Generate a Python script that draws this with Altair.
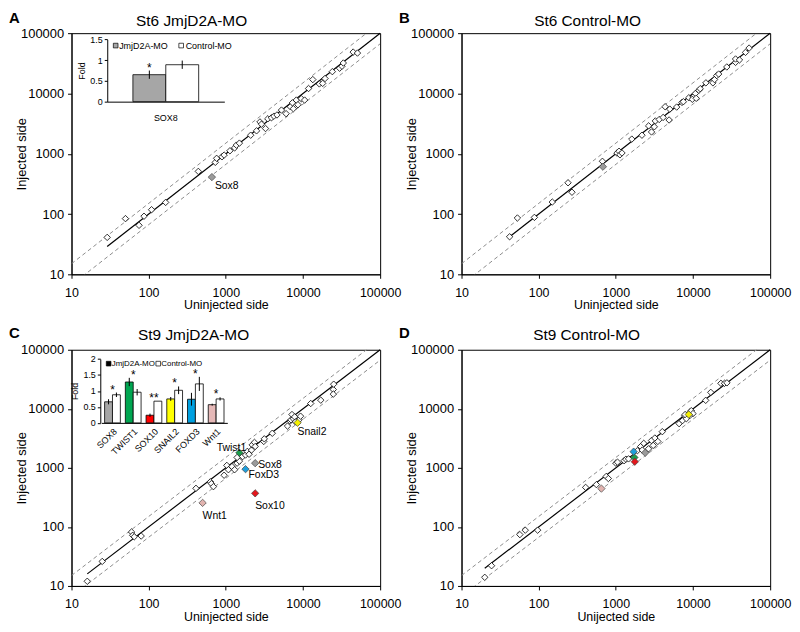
import altair as alt
import pandas as pd

FONT = "Liberation Sans"
TICKS = [10, 100, 1000, 10000, 100000]

# ---------------- Panel A: St6 JmjD2A-MO ----------------
A_uninj = [29, 50, 75, 87, 109, 166, 440, 730, 760, 890, 950, 1130, 1300, 1370, 1500, 2100,
           2500, 2770, 2900, 3270, 3500, 3900, 4200, 4600, 5260, 6040, 6860, 7300, 7500, 8190,
           8600, 9500, 10500, 11800, 13400, 16300, 18000, 19300, 24000, 29800, 32000, 33300,
           44700, 50800]
A_inj = [41, 84, 65, 92, 118, 156, 510, 720, 840, 890, 950, 1120, 1250, 1390, 1500, 2030,
         2400, 3370, 3100, 2620, 3800, 3950, 4200, 4400, 5300, 4620, 6020, 7000, 5590, 7770,
         6500, 8200, 7770, 12080, 17000, 14400, 14700, 17700, 23000, 26200, 28300, 32000,
         48600, 46800]
A_hl_gene = ["Sox8"]
A_hl_uninj = [660]
A_hl_inj = [410]

# ---------------- Panel B: St6 Control-MO ----------------
B_uninj = [42, 53, 88, 150, 240, 270, 670, 1035, 1100, 1130, 1200, 1610, 2180, 2660, 2900,
           3150, 3250, 3650, 4100, 4350, 4900, 5000, 6140, 7200, 7500, 8830, 10000, 9800,
           10740, 11000, 11900, 12400, 14700, 18100, 19000, 20300, 21500, 27400, 35600,
           35600, 40000, 47900, 53300]
B_inj = [42, 86, 88, 158, 330, 230, 750, 1026, 1100, 960, 1030, 1750, 2030, 2900, 2300,
         2800, 3500, 3700, 4000, 6030, 3630, 5500, 5950, 7100, 7300, 8490, 8720, 8000,
         10000, 8300, 11300, 12000, 15000, 15000, 17000, 19800, 21000, 27500, 32800,
         37300, 36000, 48000, 56600]
B_hl_gene = ["Sox8"]
B_hl_uninj = [680]
B_hl_inj = [610]

# ---------------- Panel C: St9 JmjD2A-MO ----------------
C_uninj = [16, 25, 60, 62, 65, 80, 410, 630, 650, 690, 950, 1030, 1080, 1200, 1300, 1400,
           1500, 1400, 1650, 1800, 1900, 2000, 2150, 2200, 2350, 2400, 3100, 3150, 4000,
           6300, 6800, 7000, 7200, 7500, 7800, 8000, 8900, 9300, 12600, 17000, 24700,
           25000, 24700]
C_inj = [12, 26, 82, 72, 68, 70, 450, 580, 540, 480, 750, 1100, 930, 1050, 930, 1200,
         1300, 1500, 1550, 1650, 1900, 1700, 2000, 2450, 2700, 2300, 2800, 3100, 3850,
         5100, 6200, 6500, 8000, 6800, 7300, 6000, 6500, 7500, 12300, 14000, 21200,
         26100, 17700]
C_hl_gene = ["Sox8", "Twist1", "Sox10", "Snail2", "FoxD3", "Wnt1"]
C_hl_uninj = [2400, 1500, 2400, 8500, 1800, 500]
C_hl_inj = [1200, 1800, 370, 5800, 950, 255]

# ---------------- Panel D: St9 Control-MO ----------------
D_uninj = [20, 24.5, 57, 67, 97, 406, 560, 750, 800, 1000, 1050, 1280, 1350, 1460, 1900,
           2100, 2200, 2300, 2650, 2900, 3050, 3200, 3500, 4000, 6600, 7300, 7800, 8200,
           7900, 9100, 9500, 10000, 9100, 14600, 17000, 23000, 25600, 27500]
D_inj = [14, 22, 74, 88, 88, 467, 520, 715, 660, 1200, 1250, 1320, 1400, 1420, 1950, 2300,
         2000, 2600, 2100, 2900, 2400, 3200, 2800, 4100, 5600, 6300, 7600, 6800, 8000,
         8800, 9300, 8300, 7700, 13900, 19000, 27000, 27000, 27500]
D_hl_gene = ["Sox8", "Twist1", "Sox10", "Snail2", "FoxD3", "Wnt1"]
D_hl_uninj = [2400, 1740, 1760, 8800, 1700, 650]
D_hl_inj = [1800, 1500, 1270, 8000, 1880, 445]

GENE_COLORS = {"Sox8": "#9b9b9b", "Twist1": "#1c9d4c", "Sox10": "#e3161c",
               "Snail2": "#f4f000", "FoxD3": "#1f9fdc", "Wnt1": "#e1b3af"}

# ---------------- Insets (qPCR fold change) ----------------
GROUPS = ["JmjD2A-MO", "Control-MO"]
A_in_genes = ["SOX8"]
A_in_jmj = [0.65]
A_in_ctrl = [0.89]
A_in_jerr = [0.1]
A_in_cerr = [0.1]
A_in_star = ["*"]
A_in_colors = ["#a6a6a6"]

C_in_genes = ["SOX8", "TWIST1", "SOX10", "SNAIL2", "FOXD3", "Wnt1"]
C_in_jmj = [0.66, 1.28, 0.24, 0.75, 0.74, 0.57]
C_in_ctrl = [0.88, 0.96, 0.68, 1.02, 1.22, 0.75]
C_in_jerr = [0.08, 0.13, 0.05, 0.06, 0.2, 0.03]
C_in_cerr = [0.07, 0.1, 0.0, 0.12, 0.22, 0.05]
C_in_star = ["*", "*", "**", "*", "*", "*"]
C_in_colors = ["#a6a6a6", "#00a651", "#ff0000", "#ffff00", "#00a0e0", "#e6b9b8"]

# label placement (align, dx, dy) for highlighted genes
A_LABELS = {"Sox8": ("left", 3, 9)}
C_LABELS = {"Twist1": ("center", -8, -5), "Sox8": ("left", 3, 2), "FoxD3": ("left", 3, 6),
            "Sox10": ("left", 0, 13), "Wnt1": ("left", 0, 13), "Snail2": ("left", 0, 9)}


def txt(s, x, y, size, weight="normal", align="left", color="black"):
    return alt.Chart(pd.DataFrame({"t": [s]})).mark_text(
        font=FONT, fontSize=size, fontWeight=weight, align=align, baseline="alphabetic",
        color=color).encode(x=alt.value(x), y=alt.value(y), text="t:N")


def scatter(letter, letter_y, title, title_x, title_y, xs, ys, hl_names, hl_x, hl_y,
            labels, xtitle):
    xsc = alt.Scale(type="log", domain=[10, 100000], nice=False)
    ysc = alt.Scale(type="log", domain=[10, 100000], nice=False)
    xax = alt.Axis(values=TICKS, format="d", title=xtitle, labelFontSize=12.5,
                   titleFontSize=12.5, tickSize=4, labelPadding=8, titleY=30.5,
                   titleBaseline="middle", labelOverlap=False, labelFlush=False)
    yax = alt.Axis(values=TICKS, format="d", title="Injected side", labelFontSize=13,
                   titleFontSize=13, tickSize=4, labelPadding=4, titleX=-50,
                   titleBaseline="middle", labelOverlap=False, labelFlush=False)

    def X(f):
        return alt.X(f, type="quantitative", scale=xsc, axis=xax)

    def Y(f):
        return alt.Y(f, type="quantitative", scale=ysc, axis=yax)

    guide = pd.DataFrame({"u": [10, 100000]})
    upper = alt.Chart(guide).transform_calculate(i="datum.u * 1.5").mark_line(
        clip=True, color="#8c8c8c", strokeDash=[4, 3], strokeWidth=1).encode(x=X("u"), y=Y("i"))
    lower = alt.Chart(guide).transform_calculate(i="datum.u / 1.5").mark_line(
        clip=True, color="#8c8c8c", strokeDash=[4, 3], strokeWidth=1).encode(x=X("u"), y=Y("i"))
    start = min(xs + hl_x)
    fit = alt.Chart(pd.DataFrame({"u": [start, 100000]})).transform_calculate(
        i="datum.u").mark_line(color="black", strokeWidth=1.2).encode(x=X("u"), y=Y("i"))
    pts = alt.Chart(pd.DataFrame({"u": xs, "i": ys})).mark_point(
        shape="diamond", size=42, filled=True, fill="white", stroke="black",
        strokeWidth=0.8, opacity=1).encode(x=X("u"), y=Y("i"))
    hl_df = pd.DataFrame({"name": hl_names, "u": hl_x, "i": hl_y,
                          "fill": [GENE_COLORS[n] for n in hl_names]})
    hl = alt.Chart(hl_df).mark_point(
        shape="diamond", size=55, filled=True, stroke="#444444", strokeWidth=0.7,
        opacity=1).encode(x=X("u"), y=Y("i"), fill=alt.Fill("fill:N", scale=None))
    layers = [upper, lower, fit, pts, hl]
    for name, (align, dx, dy) in labels.items():
        layers.append(
            alt.Chart(hl_df[hl_df["name"] == name]).mark_text(
                align=align, baseline="middle", dx=dx, dy=dy, fontSize=10.5, font=FONT,
                color="black").encode(x=X("u"), y=Y("i"), text="name:N"))
    layers.append(txt(letter, -63, letter_y, 15, weight="bold"))
    layers.append(txt(title, title_x, title_y, 15.5, align="center"))
    return alt.layer(*layers)


def inset(genes, jmj, ctrl, jerr, cerr, stars, jcolors, leg_colors, xrange, pin, pout,
          yrange, ydom, yvals, xoff, yoff, angle, lpad, star_on_jmj, leg_pos, leg_size):
    jdf = pd.DataFrame({"gene": genes, "value": jmj,
                        "lo": [v - e for v, e in zip(jmj, jerr)],
                        "hi": [v + e for v, e in zip(jmj, jerr)], "fill": jcolors})
    cdf = pd.DataFrame({"gene": genes, "value": ctrl,
                        "lo": [v - e for v, e in zip(ctrl, cerr)],
                        "hi": [v + e for v, e in zip(ctrl, cerr)]})
    tops = [(jmj[k] + jerr[k]) if star_on_jmj else max(jmj[k] + jerr[k], ctrl[k] + cerr[k])
            for k in range(len(genes))]
    sdf = pd.DataFrame({"gene": genes, "star": stars, "top": tops})

    n = len(genes)
    step = (xrange[1] - xrange[0]) / max(1, n - pin + 2 * pout)
    bw = step * (1 - pin)
    half = bw / 2.0

    xsc = alt.Scale(domain=genes, range=xrange, paddingInner=pin, paddingOuter=pout)
    xax = alt.Axis(orient="bottom", offset=xoff, title=None, ticks=False, labelAngle=angle,
                   labelFontSize=9, labelPadding=lpad, domainColor="black", labelColor="black")
    ysc = alt.Scale(domain=ydom, range=yrange, nice=False, zero=True)
    yax = alt.Axis(orient="left", offset=yoff, values=yvals, format="~g", title="Fold",
                   titleFontSize=9, labelFontSize=9, tickSize=3, labelPadding=2,
                   titlePadding=3, grid=False)
    X = alt.X("gene:N", scale=xsc, axis=xax, sort=genes)

    bars_j = alt.Chart(jdf).mark_bar(width=half, xOffset=-half / 2, stroke="black",
                                     strokeWidth=0.8).encode(
        x=X, y=alt.Y("value:Q", scale=ysc, axis=yax), fill=alt.Fill("fill:N", scale=None))
    bars_c = alt.Chart(cdf).mark_bar(width=half, xOffset=half / 2, stroke="black",
                                     strokeWidth=0.8, fill="white").encode(
        x=X, y=alt.Y("value:Q", scale=ysc, axis=yax))
    err_j = alt.Chart(jdf).mark_rule(color="black", strokeWidth=1, xOffset=-half / 2).encode(
        x=X, y=alt.Y("lo:Q", scale=ysc, axis=yax), y2="hi:Q")
    err_c = alt.Chart(cdf).mark_rule(color="black", strokeWidth=1, xOffset=half / 2).encode(
        x=X, y=alt.Y("lo:Q", scale=ysc, axis=yax), y2="hi:Q")
    star = alt.Chart(sdf).mark_text(
        fontSize=12, font=FONT, baseline="alphabetic", dy=1, color="black",
        xOffset=(-half / 2 if star_on_jmj else 0)).encode(
        x=X, y=alt.Y("top:Q", scale=ysc, axis=yax), text="star:N")
    # legend drawn as small squares and labels
    (sx1, sx2, sy, tx1, tx2) = leg_pos
    legend_layers = []
    for sx, tx, col, lab in [(sx1, tx1, leg_colors[0], GROUPS[0]),
                             (sx2, tx2, leg_colors[1], GROUPS[1])]:
        legend_layers.append(
            alt.Chart(pd.DataFrame({"t": [lab]})).mark_square(
                size=22, fill=col, stroke="black", strokeWidth=0.7, opacity=1).encode(
                x=alt.value(sx), y=alt.value(sy)))
        legend_layers.append(
            alt.Chart(pd.DataFrame({"t": [lab]})).mark_text(
                font=FONT, fontSize=leg_size, align="left", baseline="middle",
                color="black").encode(x=alt.value(tx), y=alt.value(sy), text="t:N"))
    return alt.layer(bars_j, bars_c, err_j, err_c, star, *legend_layers)


W = 311
A_sc = scatter("A", -10, "St6 JmjD2A-MO", 121, -7.5, A_uninj, A_inj, A_hl_gene,
               A_hl_uninj, A_hl_inj, A_LABELS, "Uninjected side")
A_in = inset(A_in_genes, A_in_jmj, A_in_ctrl, A_in_jerr, A_in_cerr, A_in_star, A_in_colors,
             ["#a6a6a6", "white"], [36, 154], 0, 0.39, [69, 6.3], [0, 1.5],
             [0, 0.5, 1, 1.5], -174, -36, 0, 12, True, (44.5, 110.5, 12.5, 48, 115), 9)
A = alt.layer(A_sc, A_in).resolve_scale(x="independent", y="independent").properties(
    width=W, height=243)

B = scatter("B", -10, "St6 Control-MO", 127, -7.5, B_uninj, B_inj, B_hl_gene,
            B_hl_uninj, B_hl_inj, {}, "Uninjected side").properties(width=W, height=243)

C_sc = scatter("C", -12.3, "St9 JmjD2A-MO", 123, -10, C_uninj, C_inj, C_hl_gene,
               C_hl_uninj, C_hl_inj, C_LABELS, "Uninjected side")
C_in = inset(C_in_genes, C_in_jmj, C_in_ctrl, C_in_jerr, C_in_cerr, C_in_star, C_in_colors,
             ["black", "white"], [30, 157], 0.24, 0.16, [73.7, 9.3], [0, 2],
             [0, 0.5, 1, 1.5, 2], -164.3, -29, -45, 4, False, (37.4, 87.4, 14, 40.5, 90.5), 8)
C = alt.layer(C_sc, C_in).resolve_scale(x="independent", y="independent").properties(
    width=W, height=238)

D = scatter("D", -12.3, "St9 Control-MO", 126, -10, D_uninj, D_inj, D_hl_gene,
            D_hl_uninj, D_hl_inj, {}, "Unijected side").properties(width=W, height=238)

chart = alt.concat(A, B, C, D, columns=2, spacing={"row": 76, "column": 82},
                   bounds="flush").properties(padding=0)
chart = chart.configure_view(stroke="black", strokeWidth=1).configure_axis(
    labelFont=FONT, titleFont=FONT, labelColor="black", titleColor="black",
    domainColor="black", tickColor="black", titleFontWeight="normal", grid=False
).configure_text(font=FONT)

chart.save("out.html", embed_options={"renderer": "svg", "actions": False})
